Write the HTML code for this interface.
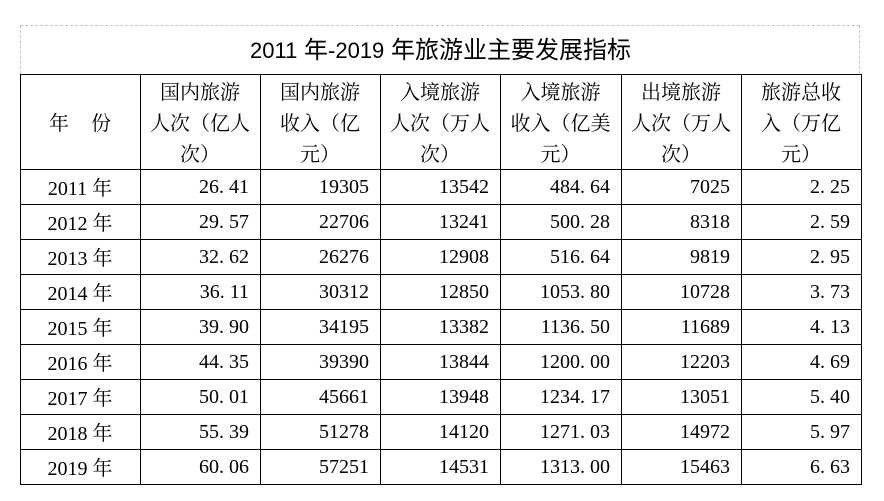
<!DOCTYPE html>
<html>
<head>
<meta charset="utf-8">
<style>
html,body{margin:0;padding:0;background:#fff;}
body{width:884px;height:501px;position:relative;overflow:hidden;}
.box{position:absolute;left:20px;top:25px;width:840px;height:49px;border:1px dashed #c4c4c4;border-bottom:none;box-sizing:border-box;}
.title{position:absolute;left:20px;top:27px;width:841px;height:48px;line-height:48px;text-align:center;font-family:"Liberation Sans","Noto Sans CJK SC",sans-serif;font-size:24px;color:#000;white-space:nowrap;}
.title .n{font-family:"Liberation Sans",sans-serif;font-size:22px;}
.h{position:absolute;background:#000;height:1px;left:20px;width:842px;}
.v{position:absolute;background:#000;width:1px;top:74px;height:411px;}
.hd{position:absolute;top:75px;height:93px;line-height:31px;text-align:center;font-family:"Noto Serif CJK SC","Noto Sans CJK SC",serif;font-size:20px;color:#000;white-space:nowrap;}
.c{position:absolute;height:35px;line-height:36px;font-family:"Liberation Serif","Noto Serif CJK SC",serif;font-size:20px;color:#000;white-space:nowrap;}
.y{text-align:center;}
.r{text-align:right;}
.p{display:inline-block;width:10px;text-align:left;}
.cj{font-family:"Noto Serif CJK SC",serif;}
</style>
</head>
<body>
<div class="box"></div>
<div class="title"><span class="n">2011</span> 年<span class="n">-2019</span> 年旅游业主要发展指标</div>

<div class="h" style="top:74px"></div>
<div class="h" style="top:169px"></div>
<div class="h" style="top:204px"></div>
<div class="h" style="top:239px"></div>
<div class="h" style="top:274px"></div>
<div class="h" style="top:309px"></div>
<div class="h" style="top:344px"></div>
<div class="h" style="top:379px"></div>
<div class="h" style="top:414px"></div>
<div class="h" style="top:449px"></div>
<div class="h" style="top:484px"></div>

<div class="v" style="left:20px"></div>
<div class="v" style="left:140px"></div>
<div class="v" style="left:260px"></div>
<div class="v" style="left:380px"></div>
<div class="v" style="left:500px"></div>
<div class="v" style="left:621px"></div>
<div class="v" style="left:741px"></div>
<div class="v" style="left:861px"></div>

<div class="hd" style="left:20px;width:120px"><br>年<span style="margin-left:22px">份</span></div>
<div class="hd" style="left:140px;width:120px">国内旅游<br>人次（亿人<br>次）</div>
<div class="hd" style="left:260px;width:120px">国内旅游<br>收入（亿<br>元）</div>
<div class="hd" style="left:380px;width:120px">入境旅游<br>人次（万人<br>次）</div>
<div class="hd" style="left:500px;width:121px">入境旅游<br>收入（亿美<br>元）</div>
<div class="hd" style="left:621px;width:120px">出境旅游<br>人次（万人<br>次）</div>
<div class="hd" style="left:741px;width:120px">旅游总收<br>入（万亿<br>元）</div>

<div class="c y" style="left:20px;width:120px;top:169px">2011 <span class="cj">年</span></div>
<div class="c r" style="left:140px;width:109px;top:169px">26<span class="p">.</span>41</div>
<div class="c r" style="left:260px;width:109px;top:169px">19305</div>
<div class="c r" style="left:380px;width:109px;top:169px">13542</div>
<div class="c r" style="left:500px;width:110px;top:169px">484<span class="p">.</span>64</div>
<div class="c r" style="left:621px;width:109px;top:169px">7025</div>
<div class="c r" style="left:741px;width:109px;top:169px">2<span class="p">.</span>25</div>

<div class="c y" style="left:20px;width:120px;top:204px">2012 <span class="cj">年</span></div>
<div class="c r" style="left:140px;width:109px;top:204px">29<span class="p">.</span>57</div>
<div class="c r" style="left:260px;width:109px;top:204px">22706</div>
<div class="c r" style="left:380px;width:109px;top:204px">13241</div>
<div class="c r" style="left:500px;width:110px;top:204px">500<span class="p">.</span>28</div>
<div class="c r" style="left:621px;width:109px;top:204px">8318</div>
<div class="c r" style="left:741px;width:109px;top:204px">2<span class="p">.</span>59</div>

<div class="c y" style="left:20px;width:120px;top:239px">2013 <span class="cj">年</span></div>
<div class="c r" style="left:140px;width:109px;top:239px">32<span class="p">.</span>62</div>
<div class="c r" style="left:260px;width:109px;top:239px">26276</div>
<div class="c r" style="left:380px;width:109px;top:239px">12908</div>
<div class="c r" style="left:500px;width:110px;top:239px">516<span class="p">.</span>64</div>
<div class="c r" style="left:621px;width:109px;top:239px">9819</div>
<div class="c r" style="left:741px;width:109px;top:239px">2<span class="p">.</span>95</div>

<div class="c y" style="left:20px;width:120px;top:274px">2014 <span class="cj">年</span></div>
<div class="c r" style="left:140px;width:109px;top:274px">36<span class="p">.</span>11</div>
<div class="c r" style="left:260px;width:109px;top:274px">30312</div>
<div class="c r" style="left:380px;width:109px;top:274px">12850</div>
<div class="c r" style="left:500px;width:110px;top:274px">1053<span class="p">.</span>80</div>
<div class="c r" style="left:621px;width:109px;top:274px">10728</div>
<div class="c r" style="left:741px;width:109px;top:274px">3<span class="p">.</span>73</div>

<div class="c y" style="left:20px;width:120px;top:309px">2015 <span class="cj">年</span></div>
<div class="c r" style="left:140px;width:109px;top:309px">39<span class="p">.</span>90</div>
<div class="c r" style="left:260px;width:109px;top:309px">34195</div>
<div class="c r" style="left:380px;width:109px;top:309px">13382</div>
<div class="c r" style="left:500px;width:110px;top:309px">1136<span class="p">.</span>50</div>
<div class="c r" style="left:621px;width:109px;top:309px">11689</div>
<div class="c r" style="left:741px;width:109px;top:309px">4<span class="p">.</span>13</div>

<div class="c y" style="left:20px;width:120px;top:344px">2016 <span class="cj">年</span></div>
<div class="c r" style="left:140px;width:109px;top:344px">44<span class="p">.</span>35</div>
<div class="c r" style="left:260px;width:109px;top:344px">39390</div>
<div class="c r" style="left:380px;width:109px;top:344px">13844</div>
<div class="c r" style="left:500px;width:110px;top:344px">1200<span class="p">.</span>00</div>
<div class="c r" style="left:621px;width:109px;top:344px">12203</div>
<div class="c r" style="left:741px;width:109px;top:344px">4<span class="p">.</span>69</div>

<div class="c y" style="left:20px;width:120px;top:379px">2017 <span class="cj">年</span></div>
<div class="c r" style="left:140px;width:109px;top:379px">50<span class="p">.</span>01</div>
<div class="c r" style="left:260px;width:109px;top:379px">45661</div>
<div class="c r" style="left:380px;width:109px;top:379px">13948</div>
<div class="c r" style="left:500px;width:110px;top:379px">1234<span class="p">.</span>17</div>
<div class="c r" style="left:621px;width:109px;top:379px">13051</div>
<div class="c r" style="left:741px;width:109px;top:379px">5<span class="p">.</span>40</div>

<div class="c y" style="left:20px;width:120px;top:414px">2018 <span class="cj">年</span></div>
<div class="c r" style="left:140px;width:109px;top:414px">55<span class="p">.</span>39</div>
<div class="c r" style="left:260px;width:109px;top:414px">51278</div>
<div class="c r" style="left:380px;width:109px;top:414px">14120</div>
<div class="c r" style="left:500px;width:110px;top:414px">1271<span class="p">.</span>03</div>
<div class="c r" style="left:621px;width:109px;top:414px">14972</div>
<div class="c r" style="left:741px;width:109px;top:414px">5<span class="p">.</span>97</div>

<div class="c y" style="left:20px;width:120px;top:449px">2019 <span class="cj">年</span></div>
<div class="c r" style="left:140px;width:109px;top:449px">60<span class="p">.</span>06</div>
<div class="c r" style="left:260px;width:109px;top:449px">57251</div>
<div class="c r" style="left:380px;width:109px;top:449px">14531</div>
<div class="c r" style="left:500px;width:110px;top:449px">1313<span class="p">.</span>00</div>
<div class="c r" style="left:621px;width:109px;top:449px">15463</div>
<div class="c r" style="left:741px;width:109px;top:449px">6<span class="p">.</span>63</div>
</body>
</html>
